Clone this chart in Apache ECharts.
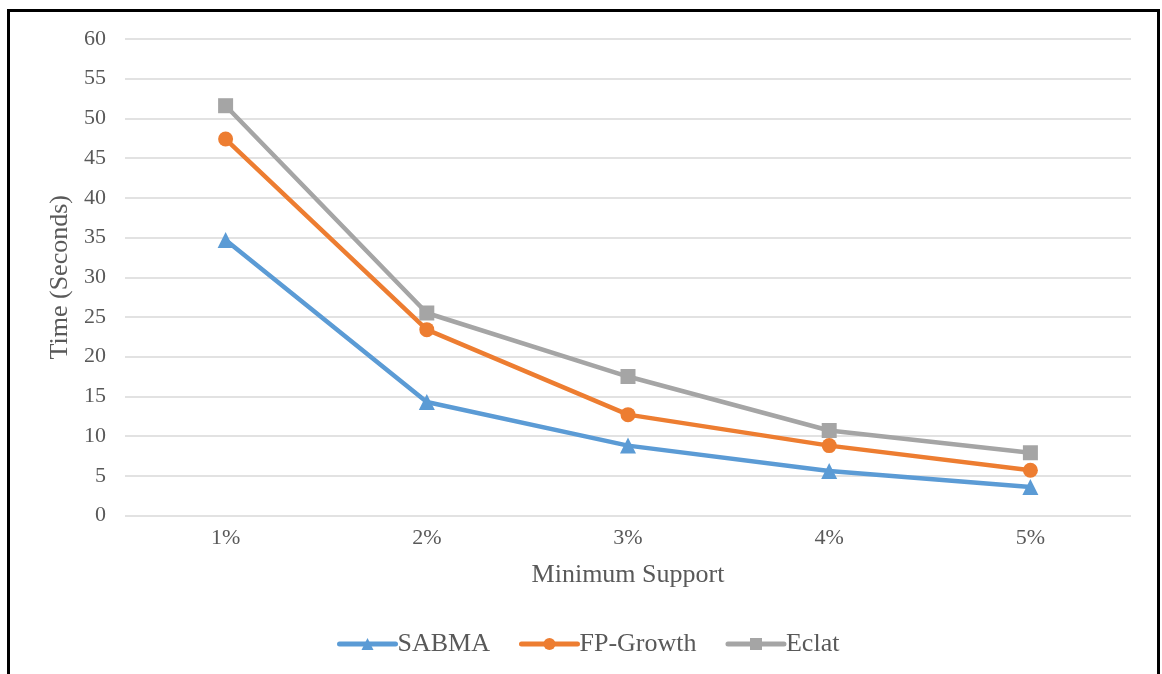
<!DOCTYPE html>
<html>
<head>
<meta charset="utf-8">
<style>
  html, body { margin: 0; padding: 0; background: #fff; }
  #chart { width: 1162px; height: 674px; }
</style>
<script src="https://cdn.jsdelivr.net/npm/echarts@6/dist/echarts.min.js"></script>
</head>
<body>
<div id="chart"></div>
<script>
// Runtime (seconds) per minimum support level
const categories = ['1%', '2%', '3%', '4%', '5%'];
const sabma = [34.7, 14.3, 8.8, 5.6, 3.6];
const fpGrowth = [47.4, 23.4, 12.7, 8.8, 5.7];
const eclat = [51.6, 25.5, 17.5, 10.7, 7.9];

const textColor = '#595959';
const font = '"Liberation Serif", "Times New Roman", serif';

function lineSeries(name, data, color, symbol, size) {
  return {
    name: name,
    type: 'line',
    data: data,
    symbol: symbol,
    symbolSize: size,
    lineStyle: { color: color, width: 4.5, cap: 'round', join: 'round' },
    itemStyle: { color: color },
    emphasis: { disabled: true }
  };
}

const chart = echarts.init(document.getElementById('chart'));
chart.setOption({
  animation: false,
  backgroundColor: '#fff',
  textStyle: { fontFamily: font },
  graphic: [{
    type: 'rect',
    shape: { x: 8.5, y: 10.5, width: 1150, height: 720 },
    style: { fill: 'none', stroke: '#000', lineWidth: 3 },
    silent: true
  }],
  grid: { left: 125, right: 31, top: 39, bottom: 158.5 },
  legend: {
    top: 626,
    left: 332,
    padding: [5, 5, 5, 5],
    itemWidth: 56,
    itemHeight: 15,
    itemGap: 29,
    lineStyle: { width: 5 },
    textStyle: { color: textColor, fontSize: 26, fontFamily: font, padding: [0, 0, 0, -3] },
    data: ['SABMA', 'FP-Growth', 'Eclat']
  },
  xAxis: {
    type: 'category',
    data: categories,
    boundaryGap: true,
    name: 'Minimum Support',
    nameLocation: 'middle',
    nameGap: 47,
    nameTextStyle: { color: textColor, fontSize: 26, fontFamily: font },
    axisLine: { show: false },
    axisTick: { show: false },
    axisLabel: { color: textColor, fontSize: 22, fontFamily: font, margin: 12 }
  },
  yAxis: {
    type: 'value',
    min: 0,
    max: 60,
    interval: 5,
    name: 'Time (Seconds)',
    nameLocation: 'middle',
    nameGap: 50,
    nameTextStyle: { color: textColor, fontSize: 26, fontFamily: font },
    axisLine: { show: false },
    axisTick: { show: false },
    axisLabel: { color: textColor, fontSize: 22, fontFamily: font, margin: 19 },
    splitLine: { lineStyle: { color: '#d9d9d9', width: 1.5 } }
  },
  series: [
    lineSeries('SABMA', sabma, '#5B9BD5', 'triangle', 16),
    lineSeries('FP-Growth', fpGrowth, '#ED7D31', 'circle', 15),
    lineSeries('Eclat', eclat, '#A5A5A5', 'rect', 15)
  ]
});
</script>
</body>
</html>
